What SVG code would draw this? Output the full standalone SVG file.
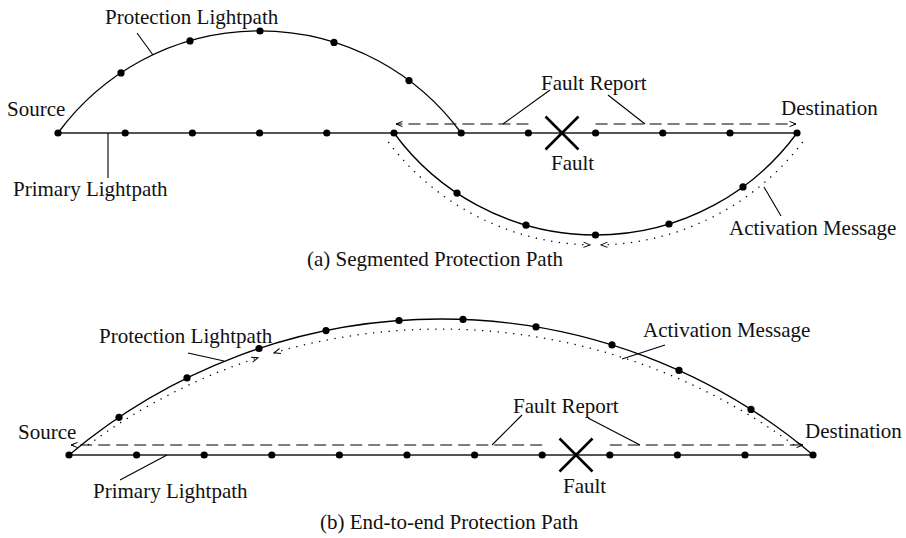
<svg xmlns="http://www.w3.org/2000/svg" width="906" height="538" viewBox="0 0 906 538">
<defs>
<style>
text{font-family:"Liberation Serif","Times New Roman",serif;font-size:21px;fill:#111}
.prim{stroke:#555;stroke-width:2;fill:none}
.arc{stroke:#000;stroke-width:1.3;fill:none}
.lead{stroke:#000;stroke-width:1.1;fill:none}
.dash{stroke:#000;stroke-width:1.2;fill:none;stroke-dasharray:12 6}
.dot{stroke:#000;stroke-width:1.3;fill:none;stroke-dasharray:1.3 6.5}
.fault{stroke:#000;stroke-width:2.6;fill:none}
.n{fill:#000}
</style>
<marker id="ah" markerWidth="10" markerHeight="8" refX="0" refY="0" viewBox="-8 -4 10 8" orient="auto" markerUnits="userSpaceOnUse">
<path d="M-6.5,-2.6 L0,0 L-6.5,2.6" stroke="#000" stroke-width="1" fill="none"/>
</marker>
<circle id="nd" r="3.6" class="n"/>
</defs>

<!-- ===== (a) Segmented ===== -->
<g id="a-primary">
<line class="prim" x1="58" y1="133" x2="797" y2="133"/>
<use href="#nd" x="58" y="133"/><use href="#nd" x="125.2" y="133"/><use href="#nd" x="192.4" y="133"/>
<use href="#nd" x="259.6" y="133"/><use href="#nd" x="326.8" y="133"/><use href="#nd" x="394" y="133"/>
<use href="#nd" x="461.2" y="133"/><use href="#nd" x="528.4" y="133"/><use href="#nd" x="595.6" y="133"/>
<use href="#nd" x="662.8" y="133"/><use href="#nd" x="730" y="133"/><use href="#nd" x="797" y="133"/>
</g>
<g id="a-protection-top">
<path class="arc" d="M58,133 A250,250 0 0 1 461.2,133"/>
<use href="#nd" x="121" y="72.9"/><use href="#nd" x="190" y="40.9"/><use href="#nd" x="260" y="31"/>
<use href="#nd" x="334" y="42.4"/><use href="#nd" x="409" y="80.6"/>
</g>
<g id="a-protection-bottom">
<path class="arc" d="M394,133 A250,250 0 0 0 797,133"/>
<use href="#nd" x="457" y="193.1"/><use href="#nd" x="526" y="225.2"/><use href="#nd" x="595.5" y="235"/>
<use href="#nd" x="669" y="224"/><use href="#nd" x="743" y="186.9"/>
</g>
<g id="a-fault">
<path class="fault" d="M545.5,116.5 L578.5,149.5 M578.5,116.5 L545.5,149.5"/>
</g>
<g id="a-labels">
<text x="105" y="24">Protection Lightpath</text>
<text x="7" y="116">Source</text>
<text x="13" y="196">Primary Lightpath</text>
<text x="541" y="90">Fault Report</text>
<text x="551" y="170">Fault</text>
<text x="781" y="115">Destination</text>
<text x="729" y="235">Activation Message</text>
<text x="307" y="266">(a) Segmented Protection Path</text>
</g>

<!-- ===== (b) End-to-end ===== -->
<g id="b-primary">
<line class="prim" x1="69" y1="455" x2="813" y2="455"/>
<use href="#nd" x="69" y="455"/><use href="#nd" x="136.6" y="455"/><use href="#nd" x="204.2" y="455"/>
<use href="#nd" x="271.8" y="455"/><use href="#nd" x="339.4" y="455"/><use href="#nd" x="407" y="455"/>
<use href="#nd" x="474.6" y="455"/><use href="#nd" x="542.2" y="455"/><use href="#nd" x="609.8" y="455"/>
<use href="#nd" x="677.4" y="455"/><use href="#nd" x="745" y="455"/><use href="#nd" x="813" y="455"/>
</g>
<g id="b-protection">
<path class="arc" d="M69,455 A576.76,576.76 0 0 1 813,455"/>
<use href="#nd" x="119" y="417.3"/><use href="#nd" x="187" y="377.9"/><use href="#nd" x="259" y="348.5"/>
<use href="#nd" x="326" y="330.6"/><use href="#nd" x="399" y="320.5"/><use href="#nd" x="463" y="319.4"/>
<use href="#nd" x="536" y="326.9"/><use href="#nd" x="612" y="344.9"/><use href="#nd" x="679" y="370.4"/>
<use href="#nd" x="751" y="409.4"/>
</g>
<g id="b-fault">
<path class="fault" d="M559.5,438.5 L592.5,471.5 M592.5,438.5 L559.5,471.5"/>
</g>
<g id="b-labels">
<text x="99" y="343">Protection Lightpath</text>
<text x="18" y="439">Source</text>
<text x="93" y="498">Primary Lightpath</text>
<text x="513" y="413">Fault Report</text>
<text x="563" y="493">Fault</text>
<text x="805" y="438">Destination</text>
<text x="643" y="337">Activation Message</text>
<text x="320" y="529">(b) End-to-end Protection Path</text>
</g>

<!-- ===== connectors ===== -->
<g id="connectors">
<!-- (a) fault report -->
<path class="dash" d="M528.4,124 L396,124" marker-end="url(#ah)"/>
<path class="dash" d="M595.6,124 L796,124" marker-end="url(#ah)"/>
<!-- (a) activation -->
<path class="dot" d="M388.3,142 A260,260 0 0 0 590,244.9" marker-end="url(#ah)"/>
<path class="dot" d="M802.7,142 A260,260 0 0 1 601,244.9" marker-end="url(#ah)"/>
<!-- (a) leaders -->
<line class="lead" x1="137" y1="33" x2="153" y2="55"/>
<line class="lead" x1="108" y1="133" x2="108" y2="178"/>
<line class="lead" x1="503" y1="124" x2="550" y2="90"/>
<line class="lead" x1="645" y1="124" x2="608" y2="95"/>
<line class="lead" x1="764" y1="187" x2="781" y2="216"/>

<!-- (b) fault report -->
<path class="dash" d="M542.2,445 L71,445" marker-end="url(#ah)"/>
<path class="dash" d="M609.8,445 L803,445" marker-end="url(#ah)"/>
<!-- (b) activation -->
<path class="dot" d="M88,445 A597,597 0 0 1 258,357.7" marker-end="url(#ah)"/>
<path class="dot" d="M794,445 A597,597 0 0 0 274,352.8" marker-end="url(#ah)"/>
<!-- (b) leaders -->
<line class="lead" x1="188" y1="353" x2="224" y2="361"/>
<line class="lead" x1="167" y1="455" x2="120" y2="480"/>
<line class="lead" x1="492" y1="445" x2="522" y2="415"/>
<line class="lead" x1="640" y1="445" x2="588" y2="418"/>
<line class="lead" x1="665" y1="345" x2="622" y2="359"/>
</g>
</svg>
